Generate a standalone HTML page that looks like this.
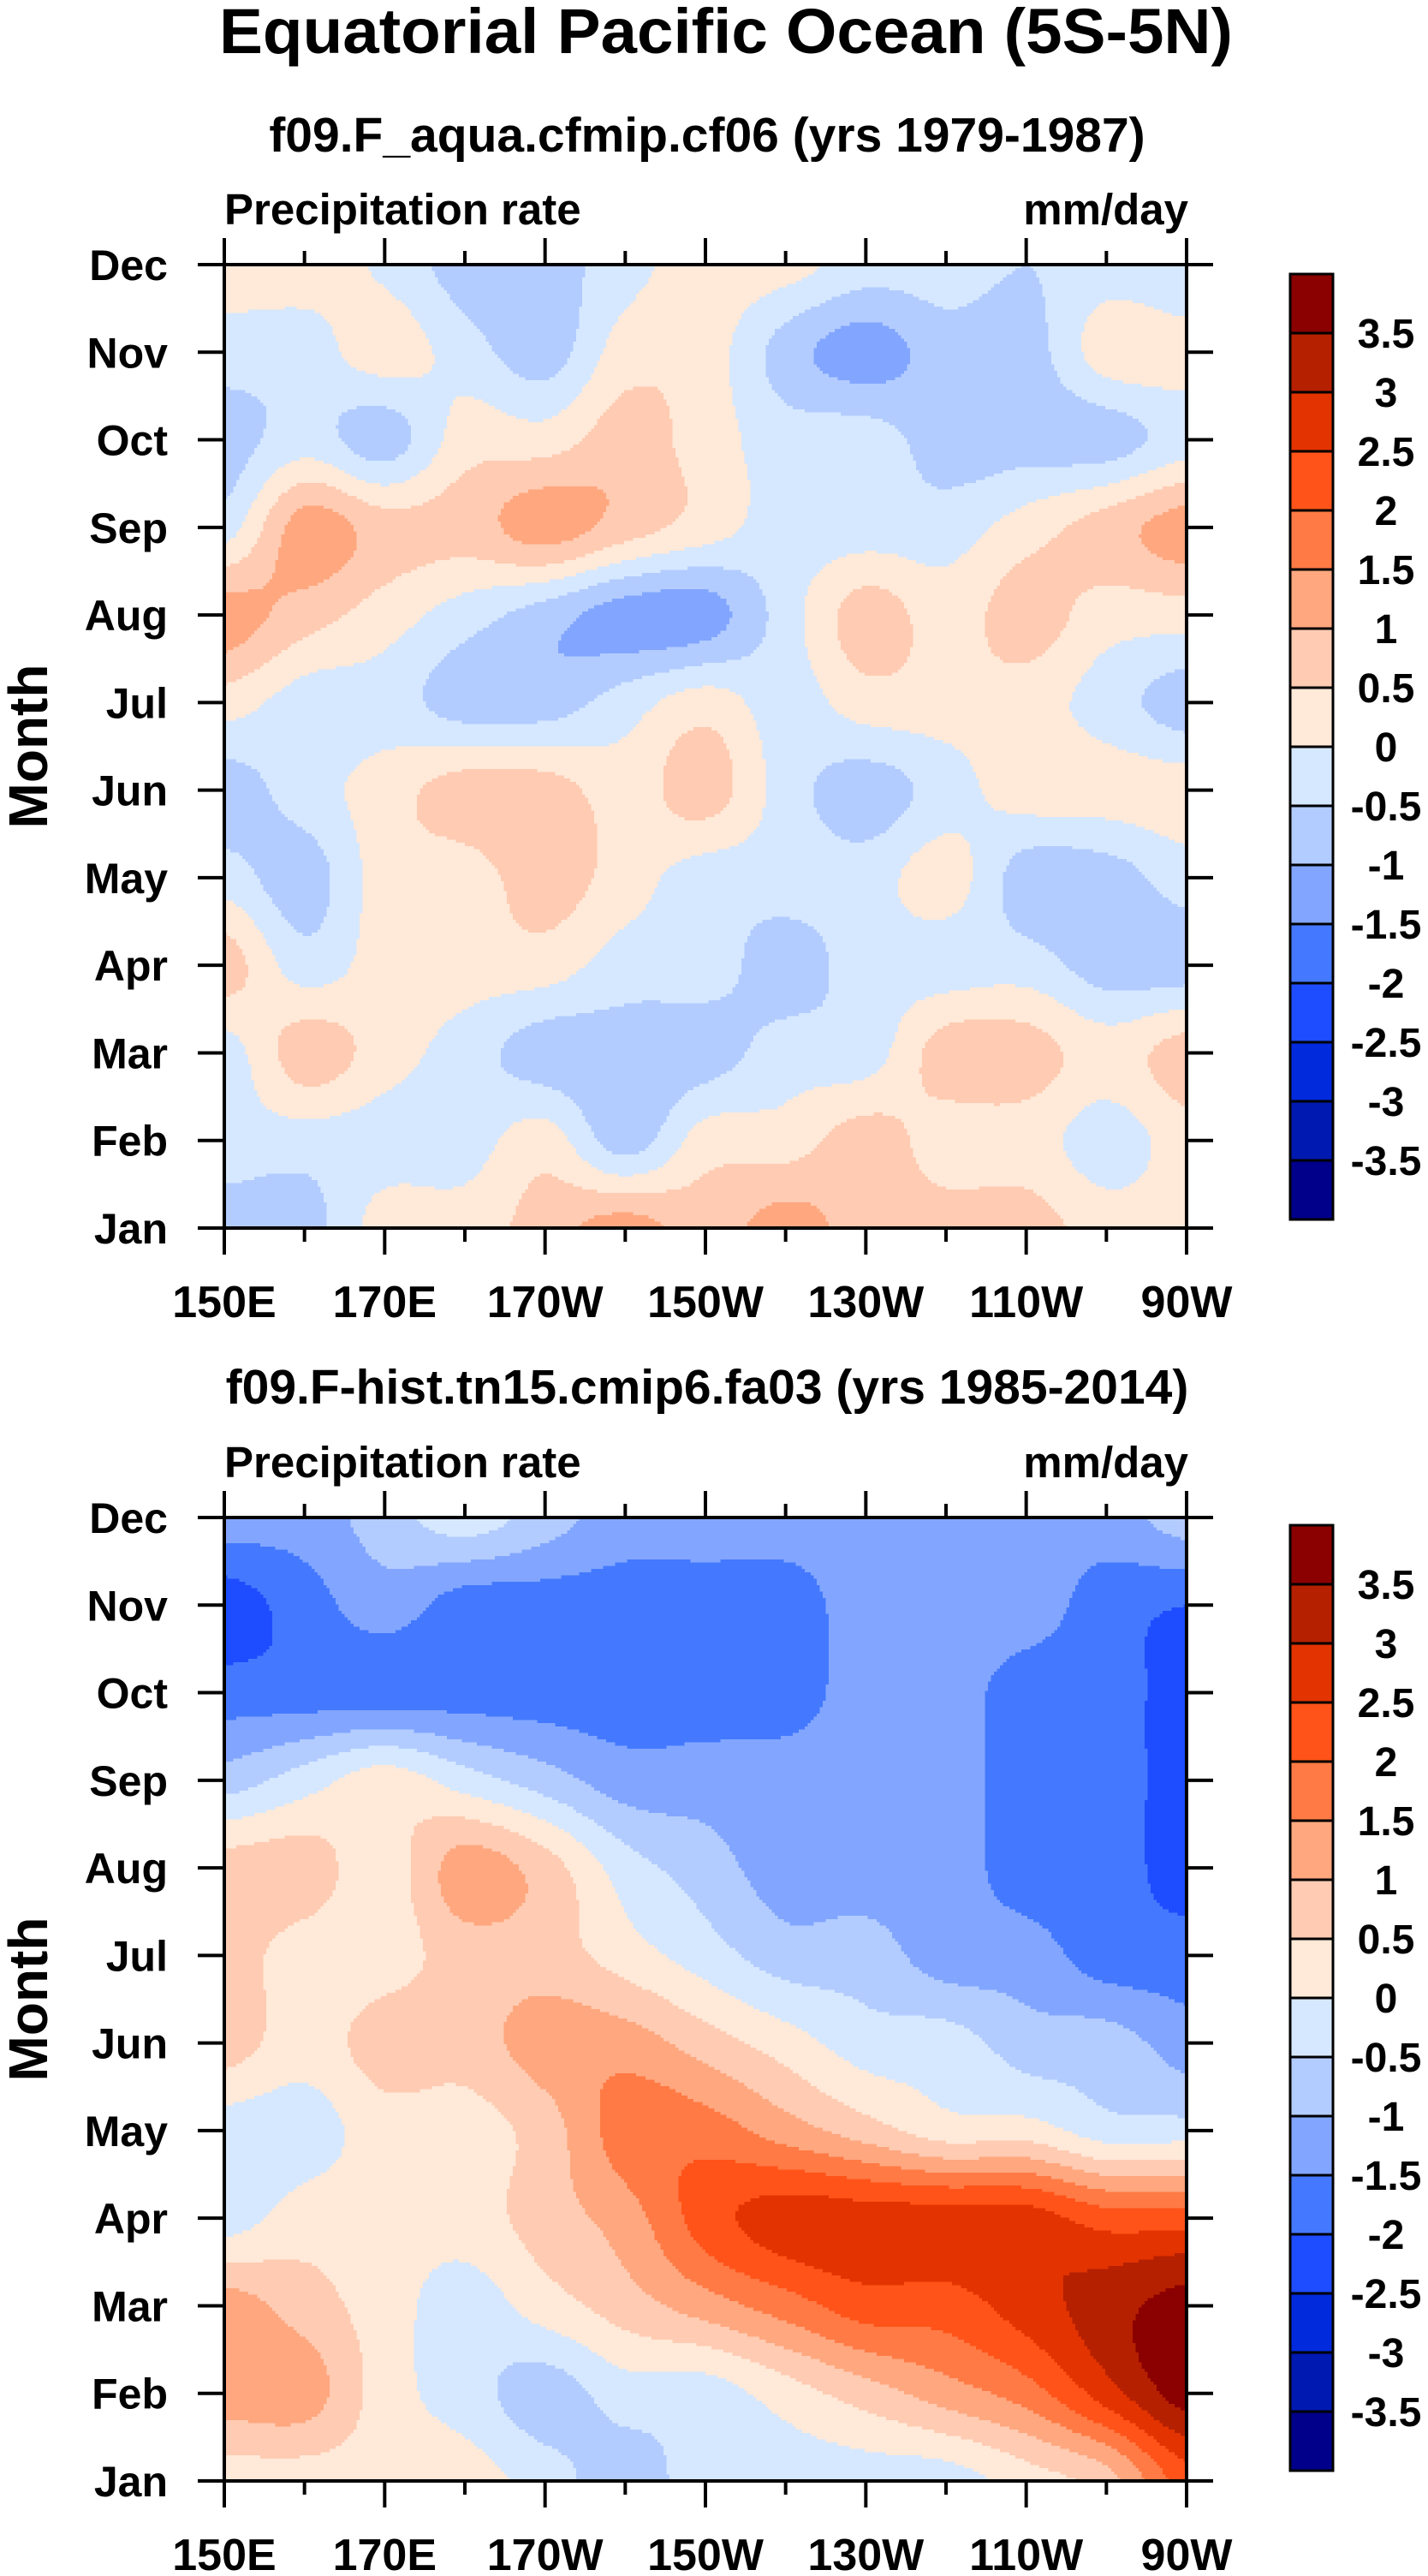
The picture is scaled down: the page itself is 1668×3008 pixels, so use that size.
<!DOCTYPE html>
<html><head><meta charset="utf-8"><title>Equatorial Pacific Ocean (5S-5N)</title>
<style>html,body{margin:0;padding:0;background:#fff}svg{display:block}text{font-family:"Liberation Sans",Arial,sans-serif;font-weight:bold;fill:#000}</style>
</head><body>
<svg id="fig" width="1668" height="3008" viewBox="0 0 1668 3008" xmlns="http://www.w3.org/2000/svg">
<text x="848" y="62" font-size="74" text-anchor="middle" textLength="1184" lengthAdjust="spacingAndGlyphs">Equatorial Pacific Ocean (5S-5N)</text>
</svg>
<script>
// ---- data ----
const lonLabels = ["150E","170E","170W","150W","130W","110W","90W"];
const lonGrid = [150,160,170,180,190,200,210,220,230,240,250,260,270];
const monthLabels = ["Jan","Feb","Mar","Apr","May","Jun","Jul","Aug","Sep","Oct","Nov","Dec"];
const levels = [-3.5,-3,-2.5,-2,-1.5,-1,-0.5,0,0.5,1,1.5,2,2.5,3,3.5];
const levelColors = ["#00008B","#0019B0","#002ADB","#1E4DFF","#4479FF","#82A6FF","#B3CCFF","#D6E8FF","#FFE9D8","#FFCBB2","#FFA77F","#FF7A45","#FF5319","#E33300","#B52000","#8B0000"];
// rows: Jan..Dec, columns: lonGrid
const field1 = [
 [-0.75,-0.75,0.25,0.25,0.75,1.25,0.75,1.25,0.75,0.75,0.75,0.25,0.25],
 [-0.25,-0.25,-0.25,-0.25,0.25,-0.75,0.25,0.25,0.75,0.25,0.25,-0.25,0.25],
 [-0.25,0.75,0.25,-0.25,-0.75,-0.75,-0.75,-0.25,-0.25,0.75,0.75,0.25,0.75],
 [0.75,-0.25,0.25,0.25,0.25,-0.25,-0.25,-0.75,-0.25,-0.25,-0.25,-0.75,-0.75],
 [-0.25,-0.75,0.25,0.25,0.75,0.25,-0.25,-0.25,-0.25,0.25,-0.75,-0.75,-0.25],
 [-0.75,-0.25,0.25,0.75,0.75,0.25,0.75,-0.25,-0.75,-0.25,0.25,0.25,0.25],
 [0.25,-0.25,-0.25,-0.75,-0.75,-0.25,0.25,-0.25,0.25,0.25,0.25,-0.25,-0.75],
 [1.25,0.75,0.25,-0.25,-0.75,-1.25,-1.25,-0.25,0.75,0.25,0.75,0.25,0.25],
 [-0.25,1.25,0.75,0.75,1.25,0.75,0.25,-0.25,-0.25,-0.25,0.25,0.75,1.25],
 [-0.75,-0.25,-0.75,0.25,0.25,0.75,0.25,-0.25,-0.25,-0.75,-0.75,-0.75,-0.25],
 [-0.25,-0.25,0.25,-0.25,-0.75,0.25,0.25,-0.75,-1.25,-0.75,-0.75,0.25,0.25],
 [0.25,0.25,-0.1,-0.75,-0.75,-0.2,0.25,0.2,-0.25,-0.25,-0.5,-0.25,-0.5]
];
const field2 = [
 [0.25,0.25,0.25,0.25,-0.25,-0.75,-0.25,-0.25,-0.25,-0.25,0.25,0.75,2.25],
 [1.25,1.25,0.25,-0.25,-0.75,-0.25,-0.25,0.25,0.75,1.25,1.75,2.75,3.75],
 [1.25,0.75,0.25,-0.25,0.25,0.75,1.25,1.75,2.25,2.25,2.75,3.25,3.75],
 [-0.25,0.25,0.25,0.25,0.75,1.25,2.25,2.75,2.75,2.75,2.75,2.25,2.25],
 [-0.25,-0.25,0.25,0.25,0.75,1.75,1.75,1.25,0.75,0.25,0.25,-0.25,-0.25],
 [0.75,0.25,0.75,0.75,1.25,1.25,0.75,0.25,-0.25,-0.25,-0.75,-0.75,-1.25],
 [0.75,0.25,0.25,0.75,0.75,0.25,-0.25,-0.75,-0.75,-1.25,-1.25,-1.75,-1.75],
 [0.75,0.75,0.25,1.25,0.75,-0.25,-0.75,-1.25,-1.25,-1.25,-1.75,-1.75,-2.25],
 [-0.75,-0.25,0.25,-0.25,-0.75,-1.25,-1.25,-1.25,-1.25,-1.25,-1.75,-1.75,-2.25],
 [-1.75,-1.75,-1.75,-1.75,-1.75,-1.75,-1.75,-1.75,-1.25,-1.25,-1.75,-1.75,-2.25],
 [-2.25,-1.75,-1.25,-1.75,-1.75,-1.75,-1.75,-1.75,-1.25,-1.25,-1.25,-1.75,-2.0],
 [-1.25,-1.25,-0.75,-0.25,-0.75,-1.25,-1.25,-1.25,-1.25,-1.25,-1.25,-1.25,-0.75]
];

const NS = "http://www.w3.org/2000/svg";
const svg = document.getElementById("fig");
function mk(tag, attrs, parent){ const e=document.createElementNS(NS,tag); for(const k in attrs) e.setAttribute(k,attrs[k]); (parent||svg).appendChild(e); return e; }
function classify(v){ let i=0; while(i<levels.length && v>=levels[i]) i++; return i; }
function cr(p0,p1,p2,p3,t){ return 0.5*((2*p1)+(-p0+p2)*t+(2*p0-5*p1+4*p2-p3)*t*t+(-p0+3*p1-3*p2+p3)*t*t*t); }

function panel(opt){
  const L=262,R=1386,T=opt.top,B=opt.top+1125,W=R-L,H=B-T;
  const lonMin=150, lonMax=270;
  const xScale = lon => L + (lon-lonMin)/(lonMax-lonMin)*W;
  const yScale = m => B - m/11*H;
  const g = mk("g",{});
  
  
  const field = opt.field;
  const nx=320, ny=300, dx=W/nx, dy=H/ny;
  const cg = mk("g",{"shape-rendering":"crispEdges"},g);
  
  
  const nc=lonGrid.length, nr=field.length;
  function at(j,i){ j=Math.max(0,Math.min(nr-1,j)); i=Math.max(0,Math.min(nc-1,i)); return field[j][i]; }
  function val(lon, m){
    const fx=(lon-lonGrid[0])/(lonGrid[1]-lonGrid[0]);
    const i0=Math.max(0,Math.min(nc-2,Math.floor(fx))), tx=fx-i0;
    const j0=Math.max(0,Math.min(nr-2,Math.floor(m))), ty=m-j0;
    const rows=[];
    for(let dj=-1;dj<=2;dj++){
      rows.push(cr(at(j0+dj,i0-1),at(j0+dj,i0),at(j0+dj,i0+1),at(j0+dj,i0+2),tx));
    }
    return cr(rows[0],rows[1],rows[2],rows[3],ty);
  }
  for(let r=0;r<ny;r++){
    const yc=T+(r+0.5)*dy;
    const m=(B-yc)/H*11;
    let start=0, cur=-1;
    for(let c=0;c<=nx;c++){
      let k=-1;
      if(c<nx){ const lon=lonMin+((c+0.5)*dx)/W*(lonMax-lonMin); k=classify(val(lon,m)); }
      if(k!==cur){
        if(cur>=0){
          const rc=mk("rect",{x:(L+start*dx).toFixed(2),y:(T+r*dy).toFixed(2),width:((c-start)*dx+0.6).toFixed(2),height:(dy+0.6).toFixed(2),fill:levelColors[cur]},cg);
          
          
        }
        start=c; cur=k;
      }
    }
  }
  const fr=mk("rect",{x:L,y:T,width:W,height:H,fill:"none",stroke:"#000","stroke-width":4},g);
  
  
  for(let lon=150;lon<=270;lon+=10){
    const x=xScale(lon), major=((lon-150)%20===0), len=major?31:16;
    const t1=mk("line",{x1:x,y1:T,x2:x,y2:T-len,stroke:"#000","stroke-width":4},g);
    
    
    const t2=mk("line",{x1:x,y1:B,x2:x,y2:B+len,stroke:"#000","stroke-width":4},g);
    
    
  }
  lonLabels.forEach((lab,i)=>{
    const t=mk("text",{x:xScale(150+i*20),y:B+104,"font-size":52,"text-anchor":"middle"},g);
    t.textContent=lab;
    
    
  });
  monthLabels.forEach((lab,i)=>{
    const y=yScale(i);
    const a=mk("line",{x1:L,y1:y,x2:L-31,y2:y,stroke:"#000","stroke-width":4},g);
    
    
    const b=mk("line",{x1:R,y1:y,x2:R+31,y2:y,stroke:"#000","stroke-width":4},g);
    
    
    const t=mk("text",{x:196,y:y+18,"font-size":50,"text-anchor":"end"},g);
    t.textContent=lab;
    
    
  });
  const yl=mk("text",{x:0,y:0,"font-size":64,"text-anchor":"middle",transform:`translate(55,${(T+B)/2}) rotate(-90)`},g);
  yl.textContent="Month";
  
  
  const st=mk("text",{x:826,y:opt.subY,"font-size":57,"text-anchor":"middle"},g);
  st.textContent=opt.subtitle;
  
  
  const pl=mk("text",{x:262,y:opt.top-47,"font-size":51},g);
  pl.textContent="Precipitation rate";
  
  
  const ul=mk("text",{x:1388,y:opt.top-47,"font-size":51,"text-anchor":"end"},g);
  ul.textContent="mm/day";
  
  
  const cbT=opt.cbTop, bh=69, cbL=1507, cbW=50;
  const cb=mk("g",{},g);
  
  
  levelColors.forEach((col,i)=>{
    const y=cbT+(15-i)*bh;
    const r=mk("rect",{x:cbL,y:y,width:cbW,height:bh,fill:col,stroke:"#000","stroke-width":3},cb);
    
    
  });
  levels.forEach((lv,k)=>{
    const y=cbT+(15-k)*bh;
    const t=mk("text",{x:1619,y:y+17,"font-size":48,"text-anchor":"middle"},cb);
    t.textContent=String(lv);
    
    
  });
}
panel({name:"panel-cf06",top:309,field:field1,subtitle:"f09.F_aqua.cfmip.cf06 (yrs 1979-1987)",subY:177,cbTop:320});
panel({name:"panel-fa03",top:1772,field:field2,subtitle:"f09.F-hist.tn15.cmip6.fa03 (yrs 1985-2014)",subY:1639,cbTop:1781});
</script>
</body></html>
